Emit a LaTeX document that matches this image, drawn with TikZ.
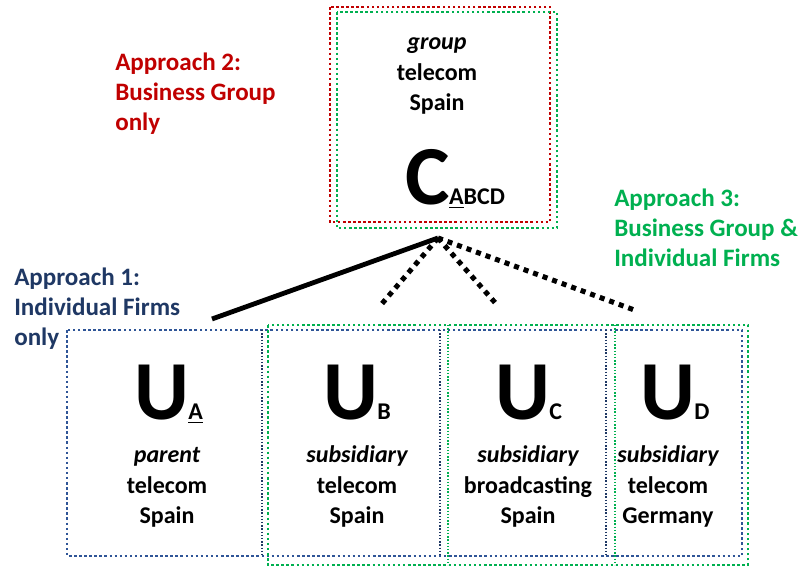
\documentclass[tikz,border=0pt]{standalone}
\usepackage{fontspec}
\setmainfont{Carlito}
\usetikzlibrary{positioning}
\definecolor{aptwo}{HTML}{C00000}
\definecolor{apthree}{HTML}{00B050}
\definecolor{apone}{HTML}{1F3864}
\definecolor{aponebox}{HTML}{2F5597}
\tikzset{
  dotbox/.style={line width=1.9pt, dash pattern=on 1.9pt off 1.9pt},
  thindot/.style={line width=1.1pt, dash pattern=on 1.1pt off 1.3pt},
  tie/.style={line width=3.6pt},
  looselink/.style={line width=3.8pt, dash pattern=on 3.8pt off 3.8pt},
  approach/.style={font=\fontsize{18.8}{22.5}\selectfont\bfseries, align=left, anchor=base west, inner sep=0pt},
  desc/.style={font=\fontsize{18}{22.9}\selectfont\bfseries, align=center, anchor=base, inner sep=0pt},
  bigletter/.style={font=\fontsize{63}{63}\selectfont\bfseries, anchor=base west, inner sep=0pt}
}
\newcommand{\subunit}[1]{\hspace{-0.5pt}{\fontsize{18}{18}\selectfont #1}}
\begin{document}
\begin{tikzpicture}[x=0.75pt,y=0.75pt,yscale=-1,xscale=1]
\useasboundingbox (0,0) rectangle (801,566);

%Shape: business group box, approach 2 and 3
\draw [aptwo, dotbox] (330,7) rectangle (550,222);
\draw [apthree, dotbox] (337,12) rectangle (557,228);

%Shape: individual firms, approach 1
\draw [aponebox, dotbox] (67,330) rectangle (742,556);
\draw [apone, thindot] (262,330) -- (262,556);
\draw [apone, thindot] (440,330) -- (440,556);
\draw [apone, thindot] (606,330) -- (606,556);

%Shape: subsidiaries, approach 3
\draw [apthree, dotbox] (268,325) rectangle (748,565);
\draw [apthree, thindot] (448,325) -- (448,565);
\draw [apthree, thindot] (615,325) -- (615,565);

% Text Node (base = last line)
\node [approach, text=aptwo] (labtwo) at (115,131) {Approach 2:\\Business Group\\only};
% Text Node
\node [approach, text=apone] (labone) at (14,346) {Approach 1:\\Individual Firms\\only};
% Text Node
\node [approach, text=apthree] (labthree) at (614,267) {Approach 3:\\Business Group \&\\Individual Firms};

% Text Node
\node [desc] (group) at (437,111) {\itshape group\\telecom\\Spain};
\node [bigletter] (cabcd) at (405,205) {C\subunit{\underline{A}BCD}};

% Text Node
\node [bigletter] (ua) at (134,420) {U\subunit{\underline{A}}};
\node [bigletter] (ub) at (323,420) {U\subunit{B}};
\node [bigletter] (uc) at (495,420) {U\subunit{C}};
\node [bigletter] (ud) at (640,420) {U\subunit{D}};
\node [desc] (da) at (167,524) {\itshape parent\\telecom\\Spain};
\node [desc] (db) at (357,524) {\itshape subsidiary\\telecom\\Spain};
\node [desc] (dc) at (528,524) {\itshape subsidiary\\broadcasting\\Spain};
\node [desc] (dd) at (668,524) {\itshape subsidiary\\telecom\\Germany};

%Straight Lines: ownership ties
\coordinate (apex) at (438,238);
\coordinate (enda) at (212,319);
\coordinate (endb) at (380,306);
\coordinate (endc) at (498,306);
\coordinate (endd) at (637,311);
\draw [tie] (apex) -- (enda);
\draw [looselink] (apex) -- (endb);
\draw [looselink] (apex) -- (endc);
\draw [looselink] (apex) -- (endd);

\end{tikzpicture}
\end{document}
